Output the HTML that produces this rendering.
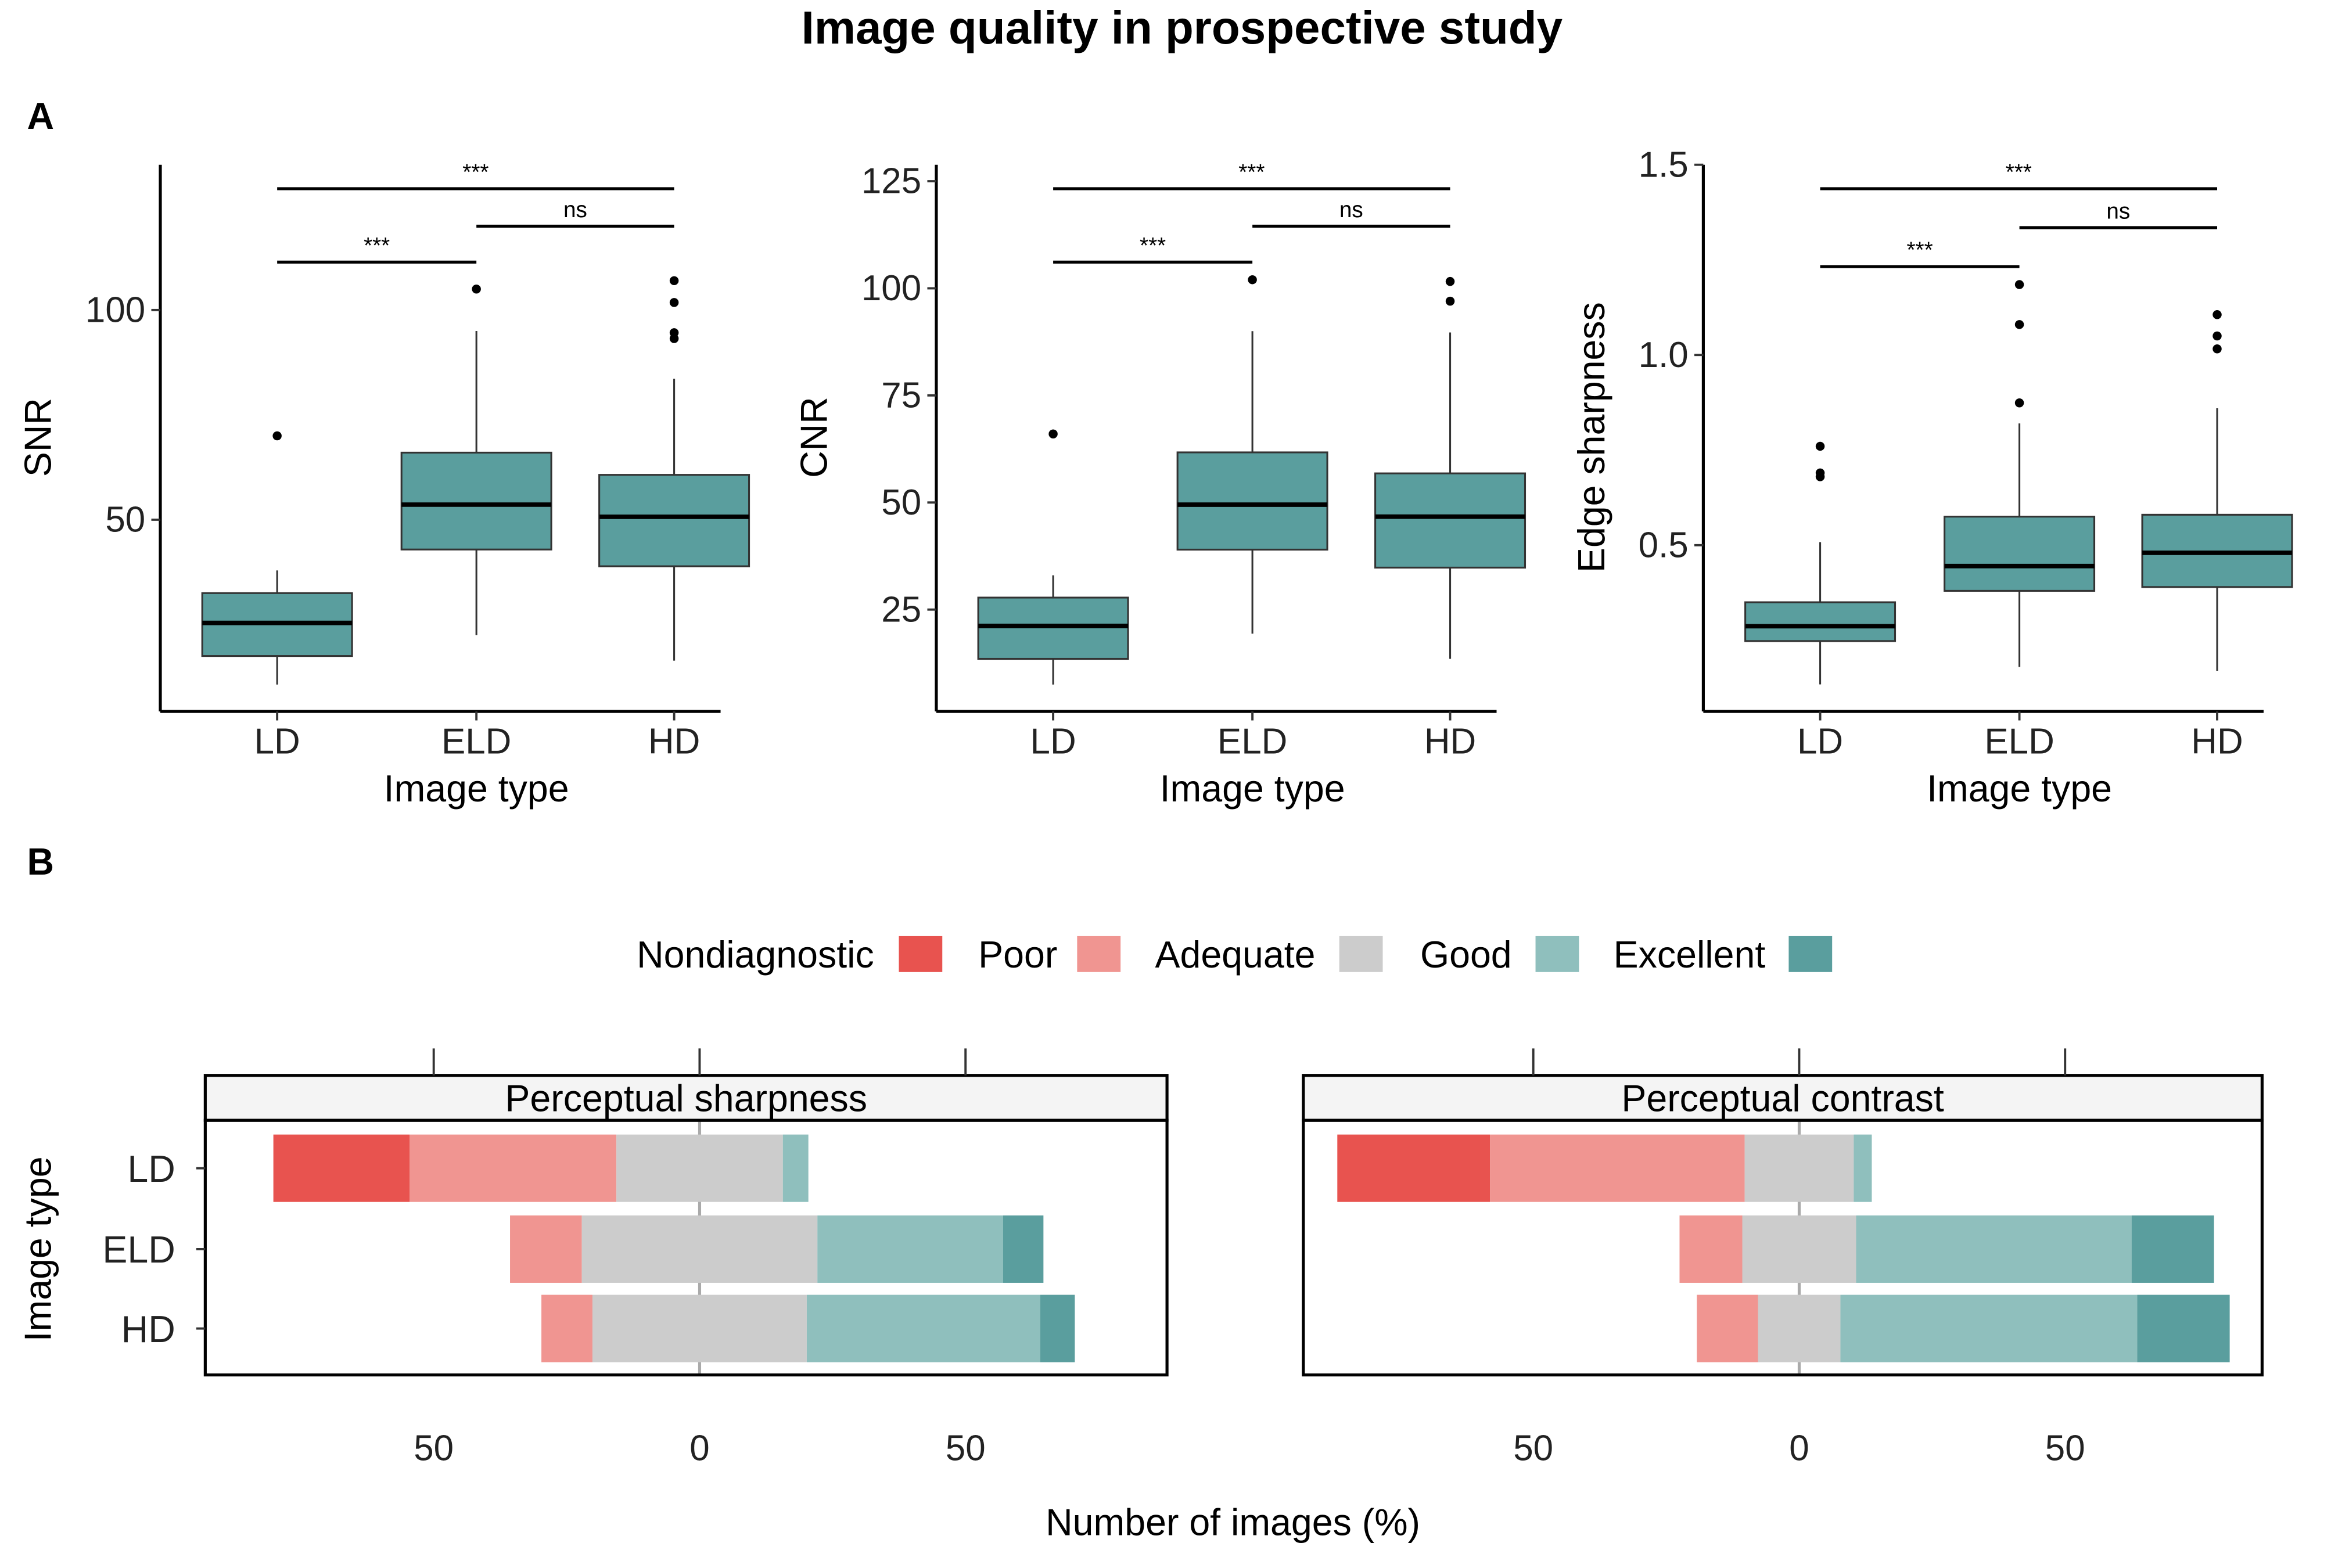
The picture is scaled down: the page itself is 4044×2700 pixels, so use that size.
<!DOCTYPE html>
<html><head><meta charset="utf-8"><style>
html,body{margin:0;padding:0;background:#fff}
svg{display:block;font-family:"Liberation Sans",Arial,sans-serif}
</style></head><body>
<svg id="chart" width="4044" height="2700" viewBox="0 0 1568 1046.9" xmlns="http://www.w3.org/2000/svg">
<text x="789" y="29" font-size="31" font-weight="bold" text-anchor="middle">Image quality in prospective study</text>
<text x="18" y="86" font-size="25" font-weight="bold">A</text>
<text x="18" y="584" font-size="25" font-weight="bold">B</text>
<g id="gA"></g><g id="gB"></g>
</svg>
<script>
const NS="http://www.w3.org/2000/svg";
function mk(parent,tag,attrs,txt){const e=document.createElementNS(NS,tag);for(const k in attrs)e.setAttribute(k,attrs[k]);if(txt!==undefined)e.textContent=txt;parent.appendChild(e);return e;}

// ---- Panel A data ----
const boxCategories=["LD","ELD","HD"];
const snrStats=[[10.7,17.5,25.4,32.5,37.9],[22.5,42.9,53.6,66,95],[16.4,38.9,50.7,60.7,83.6]];
const snrOutliers=[[70],[105],[107,101.8,94.6,93.2]];
const cnrStats=[[7.5,13.5,21.2,27.8,33],[19.4,39,49.5,61.7,90],[13.5,34.8,46.7,56.8,89.7]];
const cnrOutliers=[[66],[102],[101.6,97]];
const edgeStats=[[0.134,0.248,0.287,0.35,0.508],[0.18,0.38,0.445,0.575,0.82],[0.17,0.39,0.48,0.58,0.86]];
const edgeOutliers=[[0.76,0.69,0.68],[0.874,1.08,1.185],[1.016,1.05,1.106]];
const snrTicks=[50,100];
const cnrTicks=[25,50,75,100,125];
const edgeTicks=[0.5,1.0,1.5];
const edgeTickLabels=["0.5","1.0","1.5"];
const sigLabels=["***","ns","***"];

const panels=[
 {name:"snr",ax:107,cx:[185,318,450],y:v=>347-(v-50)*2.8,ticks:snrTicks,tl:snrTicks.map(String),stats:snrStats,out:snrOutliers,lab:"SNR",labx:34,br:[175,151,126]},
 {name:"cnr",ax:625,cx:[703,836,968],y:v=>407-(v-25)*2.86,ticks:cnrTicks,tl:cnrTicks.map(String),stats:cnrStats,out:cnrOutliers,lab:"CNR",labx:552,br:[175,151,126]},
 {name:"edge",ax:1137,cx:[1215,1348,1480],y:v=>364-(v-0.5)*254,ticks:edgeTicks,tl:edgeTickLabels,stats:edgeStats,out:edgeOutliers,lab:"Edge sharpness",labx:1071,br:[178,152,126]}
];
const gA=document.getElementById('gA');
panels.forEach(p=>{
 const g=mk(gA,'g',{});
 
 
 const xr=p.ax+374;
 const ya=mk(g,'line',{x1:p.ax,y1:110,x2:p.ax,y2:475,stroke:'#000','stroke-width':2});
 
 const xa=mk(g,'line',{x1:p.ax,y1:475,x2:xr,y2:475,stroke:'#000','stroke-width':2});
 
 p.ticks.forEach((t,i)=>{
  const y=p.y(t);
  mk(g,'line',{x1:p.ax-6,y1:y,x2:p.ax,y2:y,stroke:'#333','stroke-width':1.5});
  const tx=mk(g,'text',{x:p.ax-10,y:y+8,'font-size':24,'text-anchor':'end',fill:'#222'},p.tl[i]);
  
 });
 boxCategories.forEach((c,i)=>{
  const x=p.cx[i];
  mk(g,'line',{x1:x,y1:475,x2:x,y2:481,stroke:'#333','stroke-width':1.5});
  const tx=mk(g,'text',{x:x,y:503,'font-size':24,'text-anchor':'middle',fill:'#222'},c);
  
  const s=p.stats[i];
  const wl=mk(g,'line',{x1:x,y1:p.y(s[0]),x2:x,y2:p.y(s[4]),stroke:'#333','stroke-width':1.2});
  
  const r=mk(g,'rect',{x:x-50,y:p.y(s[3]),width:100,height:p.y(s[1])-p.y(s[3]),fill:'#5a9e9e',stroke:'#333','stroke-width':1.2});
  
  const m=mk(g,'line',{x1:x-50,y1:p.y(s[2]),x2:x+50,y2:p.y(s[2]),stroke:'#000','stroke-width':3});
  
  p.out[i].forEach(o=>{
   const d=mk(g,'circle',{cx:x,cy:p.y(o),r:3,fill:'#000'});
   
  });
 });
 const pairs=[[0,1],[1,2],[0,2]];
 pairs.forEach((pr,i)=>{
  const y=p.br[i];
  const l=mk(g,'line',{x1:p.cx[pr[0]],y1:y,x2:p.cx[pr[1]],y2:y,stroke:'#000','stroke-width':2});
  
  const t=mk(g,'text',{x:(p.cx[pr[0]]+p.cx[pr[1]])/2,y:y-6,'font-size':15,'text-anchor':'middle'},sigLabels[i]);
  
 });
 const xt=mk(g,'text',{x:p.cx[1],y:535,'font-size':25,'text-anchor':'middle'},'Image type');
 
 const yt=mk(g,'text',{x:0,y:0,'font-size':25,'text-anchor':'middle',transform:`translate(${p.labx},292) rotate(-90)`},p.lab);
 
});

// ---- Panel B data ----
const likertLevels=["Nondiagnostic","Poor","Adequate","Good","Excellent"];
const likertColors=["#e8534f","#f09591","#cccccc","#8fbfbd","#5a9e9e"];
const rowCategories=["LD","ELD","HD"];
const sharpnessPct=[[25.6,38.9,31.3,4.8,0],[0,13.5,44.3,34.9,7.6],[0,9.6,40.3,43.9,6.5]];
const contrastPct=[[28.7,47.9,20.5,3.4,0],[0,11.8,21.4,51.8,15.5],[0,11.5,15.5,55.8,17.4]];
const bTicks=[-50,0,50];
const bTickLabels=["50","0","50"];

const gB=document.getElementById('gB');
const legX=[[425,600],[653,719],[771,894],[948,1025],[1077,1194]];
likertLevels.forEach((l,i)=>{
 const t=mk(gB,'text',{x:legX[i][0],y:646,'font-size':25},l);
 
 const r=mk(gB,'rect',{x:legX[i][1],y:625,width:29,height:24,fill:likertColors[i]});
 
});
const bPanels=[{name:'sharpness',title:'Perceptual sharpness',x0:137,x1:779,c:467,data:sharpnessPct},
 {name:'contrast',title:'Perceptual contrast',x0:870,x1:1510,c:1201,data:contrastPct}];
const rowY=[780,834,887];
bPanels.forEach(p=>{
 const g=mk(gB,'g',{});
 
 const X=v=>p.c+v*3.55;
 mk(g,'line',{x1:X(0),y1:748,x2:X(0),y2:918,stroke:'#aaa','stroke-width':2});
 p.data.forEach((row,ri)=>{
  let start=-(row[0]+row[1]+row[2]/2);
  row.forEach((v,k)=>{
   if(v<=0)return;
   const r=mk(g,'rect',{x:X(start),y:rowY[ri]-22.5,width:v*3.55,height:45,fill:likertColors[k]});
   
   
   start+=v;
  });
 });
 const st=mk(g,'rect',{x:p.x0,y:718,width:p.x1-p.x0,height:30,fill:'#f4f4f4',stroke:'#000','stroke-width':2});
 
 const stt=mk(g,'text',{x:(p.x0+p.x1)/2,y:742,'font-size':25,'text-anchor':'middle'},p.title);
 
 const fr=mk(g,'rect',{x:p.x0,y:748,width:p.x1-p.x0,height:170,fill:'none',stroke:'#000','stroke-width':2});
 
 bTicks.forEach((t,i)=>{
  mk(g,'line',{x1:X(t),y1:700,x2:X(t),y2:718,stroke:'#333','stroke-width':1.5});
  const tx=mk(g,'text',{x:X(t),y:975,'font-size':24,'text-anchor':'middle',fill:'#222'},bTickLabels[i]);
  
 });
 if(p.name==='sharpness'){
  rowCategories.forEach((c,i)=>{
   mk(g,'line',{x1:131,y1:rowY[i],x2:137,y2:rowY[i],stroke:'#333','stroke-width':1.5});
   const tx=mk(g,'text',{x:117,y:rowY[i]+9,'font-size':25,'text-anchor':'end',fill:'#222'},c);
   
  });
 }
});
const byt=mk(gB,'text',{'font-size':25,'text-anchor':'middle',transform:'translate(34,834) rotate(-90)'},'Image type');

const bxt=mk(gB,'text',{x:823,y:1025,'font-size':25,'text-anchor':'middle'},'Number of images (%)');

</script>
</body></html>
